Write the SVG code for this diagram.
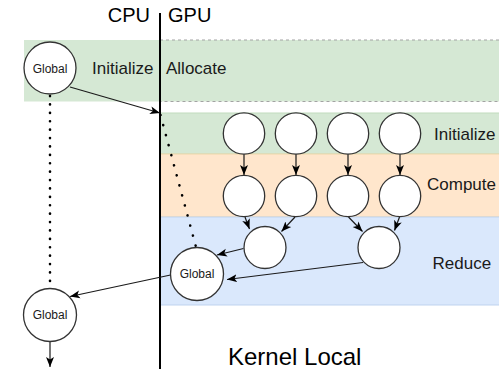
<svg xmlns="http://www.w3.org/2000/svg" width="499" height="369" viewBox="0 0 499 369">
<defs>
<style>
text{font-family:"Liberation Sans",Arial,Helvetica,sans-serif;fill:#1a1a1a}
.lbl{font-size:17px}
.g{font-size:12px;text-anchor:middle}
.big{font-size:20px;fill:#000}
.node{fill:#fff;stroke:#333;stroke-width:1.3}
.edge{fill:none;stroke:#1a1a1a;stroke-width:1.2}
.arr{marker-end:url(#ah)}
.dot{fill:none;stroke:#000;stroke-width:2.6;stroke-linecap:round}
</style>
<marker id="ah" markerUnits="userSpaceOnUse" markerWidth="11" markerHeight="10" refX="10" refY="5" orient="auto">
<path d="M0,1 L10,5 L0,9 L2.5,5 z" fill="#000"/>
</marker>
</defs>
<g id="bands">
<rect x="24" y="40" width="136" height="61.5" fill="#d5e8d4"/>
<rect x="160" y="40" width="345" height="61.5" fill="#d5e8d4" stroke="#a3a3a3" stroke-width="1.2" stroke-dasharray="3 3"/>
<rect x="160" y="113" width="345" height="41" fill="#d5e8d4" stroke="#c2dbbd" stroke-width="1"/>
<rect x="160" y="154" width="345" height="63" fill="#ffe6cc" stroke="#eed7a9" stroke-width="1"/>
<rect x="160" y="217" width="345" height="88" fill="#dae8fc" stroke="#bfd3ef" stroke-width="1"/>
</g>
<g id="divider">
<line x1="160" y1="13" x2="160" y2="369" stroke="#000" stroke-width="2"/>
<text class="big" x="150" y="22" text-anchor="end">CPU</text>
<text class="big" x="168" y="22">GPU</text>
</g>
<g id="labels">
<text class="lbl" x="92" y="74">Initialize</text>
<text class="lbl" x="166" y="74">Allocate</text>
<text class="lbl" x="434" y="139.5">Initialize</text>
<text class="lbl" x="427" y="190">Compute</text>
<text class="lbl" x="432.5" y="268.5">Reduce</text>
<text x="228" y="365" style="font-size:24px;fill:#000">Kernel Local</text>
</g>
<g id="connectors">
<line class="dot" x1="50" y1="96" x2="50" y2="288" stroke-dasharray="0.1 8.3"/>
<line class="dot" x1="160.5" y1="115" x2="196" y2="247" stroke-dasharray="0.1 10.3"/>
<line class="edge arr" x1="70" y1="87" x2="160" y2="113"/>
<line class="edge arr" x1="244" y1="154" x2="244" y2="175"/>
<line class="edge arr" x1="296" y1="154" x2="296" y2="175"/>
<line class="edge arr" x1="348" y1="154" x2="348" y2="175"/>
<line class="edge arr" x1="400" y1="154" x2="400" y2="175"/>
<line class="edge arr" x1="245" y1="217" x2="249.5" y2="229"/>
<line class="edge arr" x1="295" y1="217" x2="281.5" y2="231.5"/>
<line class="edge arr" x1="348.5" y1="217" x2="362.5" y2="231.5"/>
<line class="edge arr" x1="399.5" y1="217" x2="394.5" y2="230.5"/>
<line class="edge arr" x1="243.5" y1="248.5" x2="217" y2="255"/>
<line class="edge arr" x1="363" y1="262.5" x2="227" y2="279.5"/>
<line class="edge arr" x1="170.5" y1="275" x2="70" y2="296.5"/>
<line class="edge arr" x1="50" y1="341" x2="50" y2="367"/>
</g>
<g id="global-top"><circle class="node" cx="50" cy="68" r="26"/><text class="g" x="50" y="72.5">Global</text></g>
<g id="init-1"><circle class="node" cx="244" cy="133.5" r="20.7"/></g>
<g id="init-2"><circle class="node" cx="296" cy="133.5" r="20.7"/></g>
<g id="init-3"><circle class="node" cx="348" cy="133.5" r="20.7"/></g>
<g id="init-4"><circle class="node" cx="400" cy="133.5" r="20.7"/></g>
<g id="comp-1"><circle class="node" cx="244" cy="196" r="20.7"/></g>
<g id="comp-2"><circle class="node" cx="296" cy="196" r="20.7"/></g>
<g id="comp-3"><circle class="node" cx="348" cy="196" r="20.7"/></g>
<g id="comp-4"><circle class="node" cx="400" cy="196" r="20.7"/></g>
<g id="reduce-1"><circle class="node" cx="265" cy="247.5" r="21"/></g>
<g id="reduce-2"><circle class="node" cx="379" cy="247.5" r="21"/></g>
<g id="global-gpu"><circle class="node" cx="197" cy="274" r="26.5"/><text class="g" x="197" y="278">Global</text></g>
<g id="global-bottom"><circle class="node" cx="50" cy="315" r="26.5"/><text class="g" x="50" y="319">Global</text></g>
</svg>
